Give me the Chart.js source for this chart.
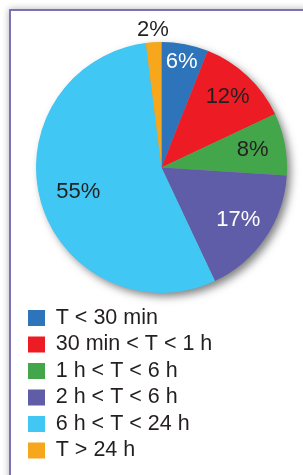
<!DOCTYPE html>
<html>
<head>
<meta charset="utf-8">
<script src="https://cdn.jsdelivr.net/npm/chart.js@4"></script>
<style>
  html, body { margin: 0; padding: 0; background: #fff; overflow: hidden; }
  #frame {
    position: absolute; left: 9px; top: 9px; width: 400px; height: 600px;
    border-left: 2px solid #7a73b9; border-top: 2px solid #7a73b9;
    box-shadow: 0 0 7px rgba(0,0,0,0.3); background: #fff;
  }
  #wrap { position: absolute; left: 0; top: 0; width: 303px; height: 475px; }
</style>
</head>
<body>
<div id="frame"></div>
<div id="wrap"><canvas id="myChart"></canvas></div>
<script>
// durée des interruptions
let categories = ['T < 30 min', '30 min < T < 1 h', '1 h < T < 6 h', '2 h < T < 6 h', '6 h < T < 24 h', 'T > 24 h'];
let shares = [6, 12, 8, 17, 55, 2]; // en %
let colors = ['#2d74ba', '#ed1c24', '#44a64a', '#5f5ca8', '#41c7f3', '#f6a71c'];
let labelColors = ['#fff', '#231f20', '#231f20', '#fff', '#231f20', '#231f20'];
let labelRadius = [0.86, 0.77, 0.74, 0.74, 0.69, 1.1]; // fraction du rayon

// ombre portée sous le camembert
let pieShadow = {
  id: 'pieShadow',
  beforeDatasetsDraw(chart) {
    let arc = chart.getDatasetMeta(0).data[0];
    if (!arc) return;
    let ctx = chart.ctx;
    ctx.save();
    ctx.shadowColor = 'rgba(0,0,0,0.5)';
    ctx.shadowBlur = 8;
    ctx.shadowOffsetX = 4;
    ctx.shadowOffsetY = 4;
    ctx.fillStyle = '#999';
    ctx.beginPath();
    ctx.arc(arc.x, arc.y, arc.outerRadius - 0.5, 0, Math.PI * 2);
    ctx.fill();
    ctx.restore();
  }
};

// pourcentages sur les parts
let pieLabels = {
  id: 'pieLabels',
  afterDatasetsDraw(chart) {
    let ctx = chart.ctx;
    ctx.save();
    ctx.font = '22px "Liberation Sans"';
    ctx.textAlign = 'center';
    ctx.textBaseline = 'middle';
    chart.getDatasetMeta(0).data.forEach((arc, i) => {
      let p = arc.getProps(['x', 'y', 'startAngle', 'endAngle', 'outerRadius']);
      let mid = (p.startAngle + p.endAngle) / 2;
      let r = p.outerRadius * labelRadius[i];
      ctx.fillStyle = labelColors[i];
      ctx.fillText(shares[i] + '%', p.x + Math.cos(mid) * r, p.y + Math.sin(mid) * r);
    });
    ctx.restore();
  }
};

let ctx = document.getElementById('myChart').getContext('2d');
let myChart = new Chart(ctx, {
  type: 'pie',
  data: {
    labels: categories,
    datasets: [{
      data: shares,
      backgroundColor: colors,
      borderWidth: 0,
      radius: 125.5
    }]
  },
  options: {
    responsive: true,
    maintainAspectRatio: false,
    animation: false,
    layout: {
      padding: { left: 23, right: 3, top: 32.75, bottom: 3.75 }
    },
    plugins: {
      tooltip: { enabled: false },
      legend: {
        position: 'bottom',
        align: 'start',
        labels: {
          boxWidth: 17,
          boxHeight: 16,
          padding: 5,
          color: '#231f20',
          font: { family: '"Liberation Sans"', size: 21.5 }
        }
      }
    }
  },
  plugins: [pieShadow, pieLabels]
});
</script>
</body>
</html>
